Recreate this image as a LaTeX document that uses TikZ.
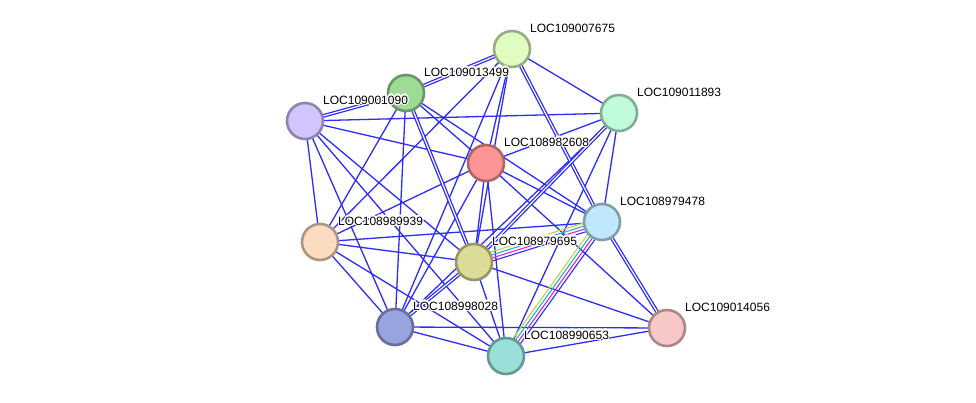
\documentclass[tikz,border=0pt]{standalone}
\usepackage{fontspec}
\setmainfont{Liberation Sans}
\usepackage[copies]{contour}
\contourlength{1.1pt}
\contournumber{16}
\usetikzlibrary{calc, backgrounds}
\definecolor{linkblue}{RGB}{45,45,248}
\definecolor{tmine}{RGB}{195,212,60}
\definecolor{dbase}{RGB}{30,180,215}
\definecolor{exper}{RGB}{212,40,212}
\definecolor{colp675}{RGB}{224,252,192}
\definecolor{colp499}{RGB}{158,220,150}
\definecolor{colp090}{RGB}{210,196,252}
\definecolor{colp893}{RGB}{192,252,220}
\definecolor{colp608}{RGB}{252,150,150}
\definecolor{colp478}{RGB}{192,232,252}
\definecolor{colp939}{RGB}{252,220,192}
\definecolor{colp695}{RGB}{220,220,152}
\definecolor{colp028}{RGB}{152,164,224}
\definecolor{colp056}{RGB}{248,200,200}
\definecolor{colp653}{RGB}{152,224,216}

\begin{document}
\begin{tikzpicture}[x=1pt, y=-1pt,
    prot/.style={circle, line width=2.6pt, minimum size=36pt, inner sep=0pt},
    lnk/.style={linkblue, line width=1.3pt},
    dlnk/.style={lnk, double=white, double distance=1.2pt},
    lbl/.style={anchor=base west, inner sep=0pt,
      font=\fontsize{12}{14}\selectfont}]
  \useasboundingbox (0,0) rectangle (976,402);
  % proteins
  \foreach \n/\x/\y/\t in {
      p675/512/49/LOC109007675,
      p499/406/93/LOC109013499,
      p090/305/121/LOC109001090,
      p893/619/113/LOC109011893,
      p608/486/163/LOC108982608,
      p478/602/222/LOC108979478,
      p939/320/242/LOC108989939,
      p695/474/262/LOC108979695,
      p028/395/327/LOC108998028,
      p056/667/328/LOC109014056,
      p653/506/356/LOC108990653} {
    \node[prot, fill=col\n, draw=col\n!68!black] (\n) at (\x,\y) {};
    \node[lbl] (l\n) at ([shift={(18pt,17pt)}]\n.center) {\contour{white}{\t}};
  }
  \begin{scope}[on background layer]
    \fill[white] (0,0) rectangle (976,402);
    % single links
    \foreach \a/\b in {p675/p893, p675/p608, p675/p939, p675/p695, p675/p028,
        p499/p608, p499/p478, p499/p939, p499/p028,
        p090/p893, p090/p608, p090/p939, p090/p695, p090/p028, p090/p653,
        p893/p608, p893/p478, p893/p028, p893/p653,
        p608/p478, p608/p939, p608/p028, p608/p056, p608/p653, p608/p695,
        p939/p478, p939/p695, p939/p028, p939/p653,
        p695/p056, p695/p653, p028/p056, p028/p653, p653/p056}
      \draw[lnk] (\a.center) -- (\b.center);
    % double links
    \foreach \a/\b in {p675/p499, p499/p090, p675/p478, p478/p056,
        p499/p695, p893/p695, p695/p028}
      \draw[dlnk] (\a.center) -- (\b.center);
    % multi-evidence links
    \foreach \a in {p695, p653}
      \foreach \col/\o/\r in {tmine/4.5pt/90, dbase/1.5pt/90,
          exper/1.5pt/-90, linkblue/4.5pt/-90}
        \draw[lnk, draw=\col, line width=1.1pt]
          ($(\a)!\o!\r:(p478)$) -- ($(p478)!\o!-\r:(\a)$);
  \end{scope}
\end{tikzpicture}
\end{document}
